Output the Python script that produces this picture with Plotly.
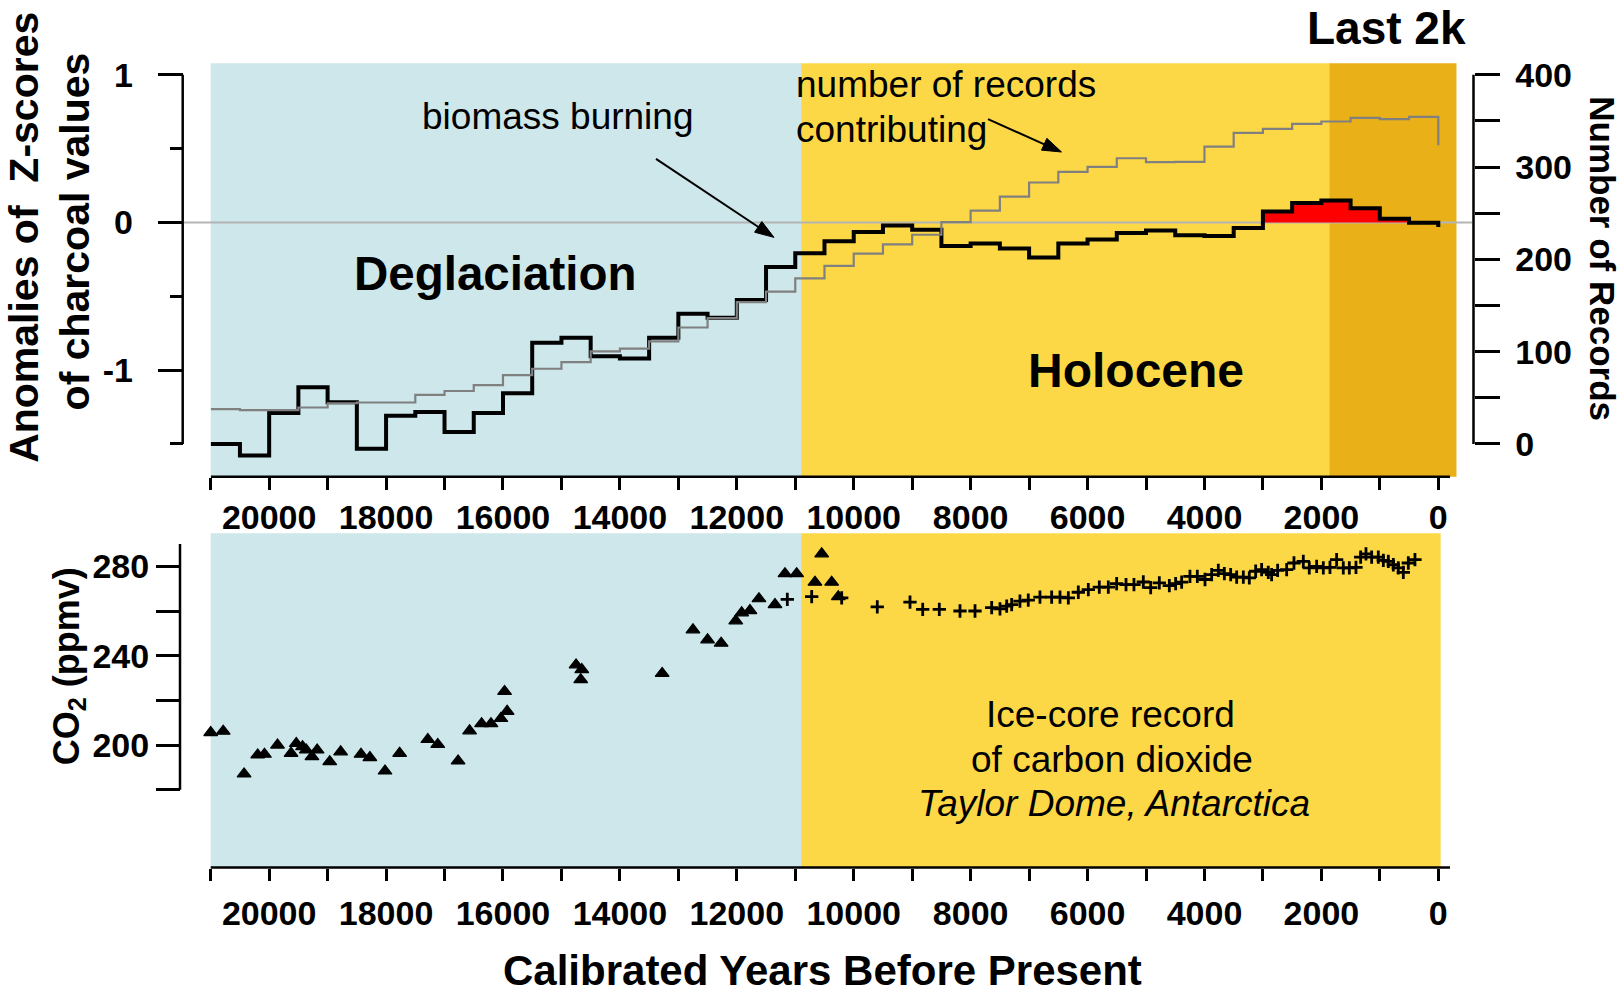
import math
import plotly.graph_objects as go

W, H = 1623, 995
FONT = "Liberation Sans, Arial, sans-serif"

# ---------------- data ----------------
# 500-year bins (start of each bin, years BP)
bin_start_bp = [21000, 20500, 20000, 19500, 19000, 18500, 18000, 17500, 17000, 16500,
                16000, 15500, 15000, 14500, 14000, 13500, 13000, 12500, 12000, 11500,
                11000, 10500, 10000, 9500, 9000, 8500, 8000, 7500, 7000, 6500,
                6000, 5500, 5000, 4500, 4000, 3500, 3000, 2500, 2000, 1500,
                1000, 500]
series_end_bp = 0

# biomass burning: anomalies of Z-scores of charcoal values
charcoal_z = [-1.500, -1.578, -1.291, -1.116, -1.217, -1.533, -1.309, -1.284, -1.419, -1.291,
              -1.157, -0.814, -0.780, -0.906, -0.921, -0.780, -0.619, -0.646, -0.525, -0.301,
              -0.208, -0.128, -0.065, -0.020, -0.049, -0.159, -0.143, -0.177, -0.237, -0.143,
              -0.116, -0.072, -0.054, -0.087, -0.092, -0.038, 0.074, 0.132, 0.148, 0.096,
              0.025, -0.002]
charcoal_last = -0.030

# number of records contributing
n_records = [37.7, 36.6, 36.6, 39.5, 44.1, 44.9, 44.9, 53.1, 57.4, 63.8,
             74.6, 81.5, 88.6, 100.4, 103.3, 111.2, 126.2, 136.3, 153.6, 165.0,
             179.4, 192.9, 206.3, 216.3, 226.7, 240.3, 252.9, 267.9, 283.3, 294.9,
             300.2, 309.6, 305.4, 305.6, 322.1, 337.1, 341.4, 346.8, 349.4, 353.3,
             351.9, 354.4]
n_records_last = 323.6

# Taylor Dome CO2 (triangles)
tri_bp = [21000, 20786, 20429, 20196, 20080, 19857, 19625, 19536, 19429, 19366,
          19268, 19179, 18964, 18777, 18429, 18277, 18018, 17768, 17286, 17116,
          16768, 16571, 16366, 16205, 16036, 15973, 15929, 14750, 14652, 14670,
          13277, 12750, 12500, 12268, 12018, 11917, 11775, 11621, 11347, 11176,
          10976, 10663, 10548, 10377, 10264]
tri_ppm = [205.6, 206.2, 187.1, 195.6, 195.9, 200.0, 196.3, 200.7, 199.3, 197.8,
           194.8, 197.8, 192.6, 197.0, 195.9, 194.4, 188.4, 196.3, 202.5, 200.3,
           192.9, 206.4, 209.6, 209.6, 211.9, 224.0, 215.1, 235.9, 233.8, 229.3,
           232.1, 251.6, 247.1, 245.6, 255.6, 259.2, 260.2, 265.5, 262.9, 276.7,
           276.7, 272.9, 285.6, 272.9, 266.4]

# Taylor Dome CO2 (crosses)
plus_bp = [11136, 10719, 10206, 9597, 9037, 8820, 8536, 8182, 7925, 7640,
           7498, 7383, 7298, 7156, 7014, 6814, 6614, 6471, 6329, 6158,
           5987, 5799, 5645, 5502, 5342, 5206, 5046, 4920, 4772, 4601,
           4493, 4390, 4248, 4122, 3991, 3877, 3763, 3660, 3552, 3449,
           3335, 3233, 3124, 3022, 2908, 2851, 2748, 2594, 2469, 2309,
           2207, 2081, 1967, 1853, 1739, 1625, 1522, 1408, 1328, 1237,
           1140, 1026, 940, 855, 769, 684, 598, 513, 399]
plus_ppm = [265.2, 266.4, 265.9, 261.9, 264.0, 260.7, 260.7, 260.0, 260.0, 261.5,
            261.0, 262.2, 262.9, 264.4, 264.9, 266.2, 266.2, 266.2, 265.9, 268.4,
            269.6, 270.7, 270.7, 272.3, 271.8, 271.8, 273.0, 270.5, 272.6, 271.4,
            272.3, 272.9, 275.5, 275.5, 274.1, 276.3, 278.2, 276.7, 276.3, 275.2,
            275.2, 274.8, 277.8, 278.5, 277.3, 276.3, 278.2, 278.5, 281.5, 282.2,
            279.3, 280.0, 279.3, 279.5, 283.0, 279.3, 279.3, 279.5, 284.1, 285.6,
            284.1, 284.1, 282.7, 282.2, 280.7, 279.3, 277.3, 281.5, 283.0]

# periods (years BP)
holocene_start_bp = 10900
last2k_start_bp = 1865

# ticks
x_tickvals = [20000, 18000, 16000, 14000, 12000, 10000, 8000, 6000, 4000, 2000, 0]
x_ticktext = ["20000", "18000", "16000", "14000", "12000", "10000", "8000", "6000",
              "4000", "2000", "0"]
x_minor = [21000, 19000, 17000, 15000, 13000, 11000, 9000, 7000, 5000, 3000, 1000]
z_tickvals = [-1, 0, 1]
z_ticktext = ["-1", "0", "1"]
z_minor = [-1.5, -0.5, 0.5]
rec_tickvals = [0, 100, 200, 300, 400]
rec_ticktext = ["0", "100", "200", "300", "400"]
rec_minor = [50, 150, 250, 350]
co2_tickvals = [200, 240, 280]
co2_ticktext = ["200", "240", "280"]
co2_minor = [180, 220, 260]

# ---------------- colours ----------------
C_BLUE = "#CDE7EA"
C_YEL = "#FCD846"
C_DARK = "#E9B117"


def px(x):
    return x / W


def py(y):
    return 1 - y / H


# ---------------- traces ----------------
step_x = bin_start_bp + [series_end_bp, series_end_bp]
z_y = charcoal_z + [charcoal_z[-1], charcoal_last]
rec_y = n_records + [n_records[-1], n_records_last]

# positive part (red fill)
pos_idx = [i for i, v in enumerate(charcoal_z) if v > 0]
red_x = [bin_start_bp[i] for i in pos_idx] + [bin_start_bp[pos_idx[-1] + 1]]
red_y = [charcoal_z[i] for i in pos_idx] + [0]

fig = go.Figure()
fig.add_trace(go.Scatter(x=red_x, y=red_y, mode="lines", line=dict(width=0, shape="hv"),
                         fill="tozeroy", fillcolor="#FF0000", xaxis="x", yaxis="y",
                         hoverinfo="skip"))
fig.add_trace(go.Scatter(x=step_x, y=z_y, mode="lines",
                         line=dict(color="black", width=4, shape="hv"),
                         xaxis="x", yaxis="y", name="biomass burning"))
fig.add_trace(go.Scatter(x=step_x, y=rec_y, mode="lines",
                         line=dict(color="#808080", width=2.2, shape="hv"),
                         xaxis="x", yaxis="y2", name="number of records"))
fig.add_trace(go.Scatter(x=tri_bp, y=tri_ppm, mode="markers",
                         marker=dict(symbol="triangle-up", size=12, color="black",
                                     line=dict(width=1.2, color="black")),
                         xaxis="x2", yaxis="y3", cliponaxis=False))
fig.add_trace(go.Scatter(x=plus_bp, y=plus_ppm, mode="markers",
                         marker=dict(symbol="cross-thin", size=9.5,
                                     line=dict(width=2.8, color="black")),
                         xaxis="x2", yaxis="y3", cliponaxis=False))

# ---------------- layout ----------------
TOP_T, TOP_B = 56.7, 473.0
BOT_T, BOT_B = 530.0, 866.7
X_L, X_R = 210.7, 1456.7
XRANGE = [21000, -315]
ZRANGE = [-1.7216, 1.078]
RECRANGE = [(ZRANGE[0] + 1.5) * 160, (ZRANGE[1] + 1.5) * 160]
CO2RANGE = [145.16, 294.8]

tickfont = dict(family=FONT, size=34, color="black", weight="bold")
common_x = dict(range=XRANGE, domain=[px(X_L), px(X_R)], tickmode="array",
                tickvals=x_tickvals, ticktext=x_ticktext, ticks="outside", ticklen=12,
                tickwidth=2.5, tickcolor="black", showline=False, showgrid=False,
                minor=dict(tickmode="array", tickvals=x_minor, ticks="outside", ticklen=12,
                           tickwidth=2.5, tickcolor="black", showgrid=False),
                zeroline=False, tickfont=tickfont)

fig.update_layout(
    width=W, height=H, autosize=False,
    margin=dict(l=0, r=0, t=0, b=0),
    paper_bgcolor="white", plot_bgcolor="white",
    showlegend=False,
    xaxis=dict(anchor="y", ticklabelstandoff=-1, **common_x),
    xaxis2=dict(anchor="y3", ticklabelstandoff=4, **common_x),
    yaxis=dict(domain=[py(TOP_B), py(TOP_T)], range=ZRANGE, anchor="free", position=px(182.7),
               tickmode="array", tickvals=z_tickvals, ticktext=z_ticktext,
               ticks="outside", ticklen=25, tickwidth=2.5, tickcolor="black",
               minor=dict(tickmode="array", tickvals=z_minor, ticks="outside", ticklen=13,
                          tickwidth=2.5, tickcolor="black", showgrid=False),
               showline=False, showgrid=False, zeroline=False, tickfont=tickfont,
               ticklabelstandoff=18),
    yaxis2=dict(overlaying="y", side="right", range=RECRANGE, anchor="free",
                position=px(1473.5), tickmode="array", tickvals=rec_tickvals,
                ticktext=rec_ticktext, ticks="outside", ticklen=25, tickwidth=2.5,
                minor=dict(tickmode="array", tickvals=rec_minor, ticks="outside", ticklen=25,
                           tickwidth=2.5, tickcolor="black", showgrid=False),
                tickcolor="black", showline=False, showgrid=False, zeroline=False,
                tickfont=tickfont, ticklabelstandoff=9),
    yaxis3=dict(domain=[py(BOT_B), py(BOT_T)], range=CO2RANGE, anchor="free", position=px(180),
                tickmode="array", tickvals=co2_tickvals, ticktext=co2_ticktext,
                ticks="outside", ticklen=24, tickwidth=2.5, tickcolor="black",
                minor=dict(tickmode="array", tickvals=co2_minor, ticks="outside", ticklen=24,
                           tickwidth=2.5, tickcolor="black", showgrid=False),
                showline=False, showgrid=False, zeroline=False, tickfont=tickfont,
                ticklabelstandoff=0),
)

shapes = []
# period shading, top panel
for x0, x1, col in [(21030, holocene_start_bp, C_BLUE),
                    (holocene_start_bp, last2k_start_bp, C_YEL),
                    (last2k_start_bp, XRANGE[1], C_DARK)]:
    shapes.append(dict(type="rect", xref="x", yref="paper", x0=x0, x1=x1,
                       y0=py(TOP_B), y1=py(TOP_T), fillcolor=col, line=dict(width=0),
                       layer="below"))
# period shading, bottom panel
for x0, x1, col in [(21030, holocene_start_bp, C_BLUE),
                    (holocene_start_bp, -40, C_YEL)]:
    shapes.append(dict(type="rect", xref="x2", yref="paper", x0=x0, x1=x1,
                       y0=py(BOT_B), y1=py(BOT_T), fillcolor=col, line=dict(width=0),
                       layer="below"))
# zero line
shapes.append(dict(type="line", xref="paper", yref="y", x0=px(184), x1=px(1472), y0=0, y1=0,
                   line=dict(color="#B4B4B4", width=2), layer="below"))
# axis lines
AX = dict(color="black", width=2.5)
shapes += [
    dict(type="line", xref="paper", yref="y", x0=px(182.7), x1=px(182.7), y0=-1.5, y1=1, line=AX),
    dict(type="line", xref="paper", yref="y2", x0=px(1473.5), x1=px(1473.5), y0=0, y1=400, line=AX),
    dict(type="line", xref="paper", yref="y3", x0=px(180), x1=px(180), y0=180, y1=290, line=AX),
    dict(type="line", xref="x", yref="paper", x0=21000, x1=-200, y0=py(TOP_B), y1=py(TOP_B), line=AX),
    dict(type="line", xref="x2", yref="paper", x0=21050, x1=-200, y0=py(BOT_B), y1=py(BOT_B), line=AX),
]


def arrow_shapes(tail, tip, head_len=19, half_w=6.5, width=2):
    """Arrow (shaft + filled head) in pixel coordinates, returned as paper-ref shapes."""
    dx, dy = tip[0] - tail[0], tip[1] - tail[1]
    d = math.hypot(dx, dy)
    ux, uy = dx / d, dy / d
    nx, ny = -uy, ux
    bx, by = tip[0] - head_len * ux, tip[1] - head_len * uy
    p1 = (bx + half_w * nx, by + half_w * ny)
    p2 = (bx - half_w * nx, by - half_w * ny)
    path = "M {:.5f},{:.5f} L {:.5f},{:.5f} L {:.5f},{:.5f} Z".format(
        px(tip[0]), py(tip[1]), px(p1[0]), py(p1[1]), px(p2[0]), py(p2[1]))
    return [
        dict(type="line", xref="paper", yref="paper", x0=px(tail[0]), y0=py(tail[1]),
             x1=px(bx + 2 * ux), y1=py(by + 2 * uy), line=dict(color="black", width=width)),
        dict(type="path", xref="paper", yref="paper", path=path, fillcolor="black",
             line=dict(color="black", width=1)),
    ]


shapes += arrow_shapes((656, 153), (774, 232))
shapes += arrow_shapes((988, 113), (1061.5, 146))
fig.update_layout(shapes=shapes)


def ann(text, x, y, size, bold=False, xanchor="center", yanchor="middle", angle=0):
    return dict(text=text, x=px(x), y=py(y), xref="paper", yref="paper", showarrow=False,
                xanchor=xanchor, yanchor=yanchor, textangle=angle, borderpad=0,
                font=dict(family=FONT, size=size, color="black",
                          weight="bold" if bold else "normal"))


annotations = [
    ann("Deglaciation", 495, 268.5, 47.5, bold=True),
    ann("Holocene", 1136, 366, 48, bold=True),
    ann("Last 2k", 1386, 21, 46, bold=True),
    ann("biomass burning", 557, 110, 37),
    ann("number of records", 795, 78, 37, xanchor="left"),
    ann("contributing", 795, 123, 37, xanchor="left"),
    ann("Ice-core record", 1110, 713, 37),
    ann("of carbon dioxide", 1112, 758, 37),
    ann("<i>Taylor Dome, Antarctica</i>", 1114, 802.5, 37),
    ann("Calibrated Years Before Present", 822, 995, 42, bold=True, yanchor="bottom"),
    ann("Anomalies of  Z-scores", 24.5, 232, 41, bold=True, angle=-90),
    ann("of charcoal values", 75, 226, 41, bold=True, angle=-90),
    ann("Number of Records", 1603, 253, 35, bold=True, angle=90),
    ann("CO<sub>2</sub> (ppmv)", 69, 664, 36, bold=True, angle=-90),
]
fig.update_layout(annotations=annotations)

fig.write_html("out.html")
